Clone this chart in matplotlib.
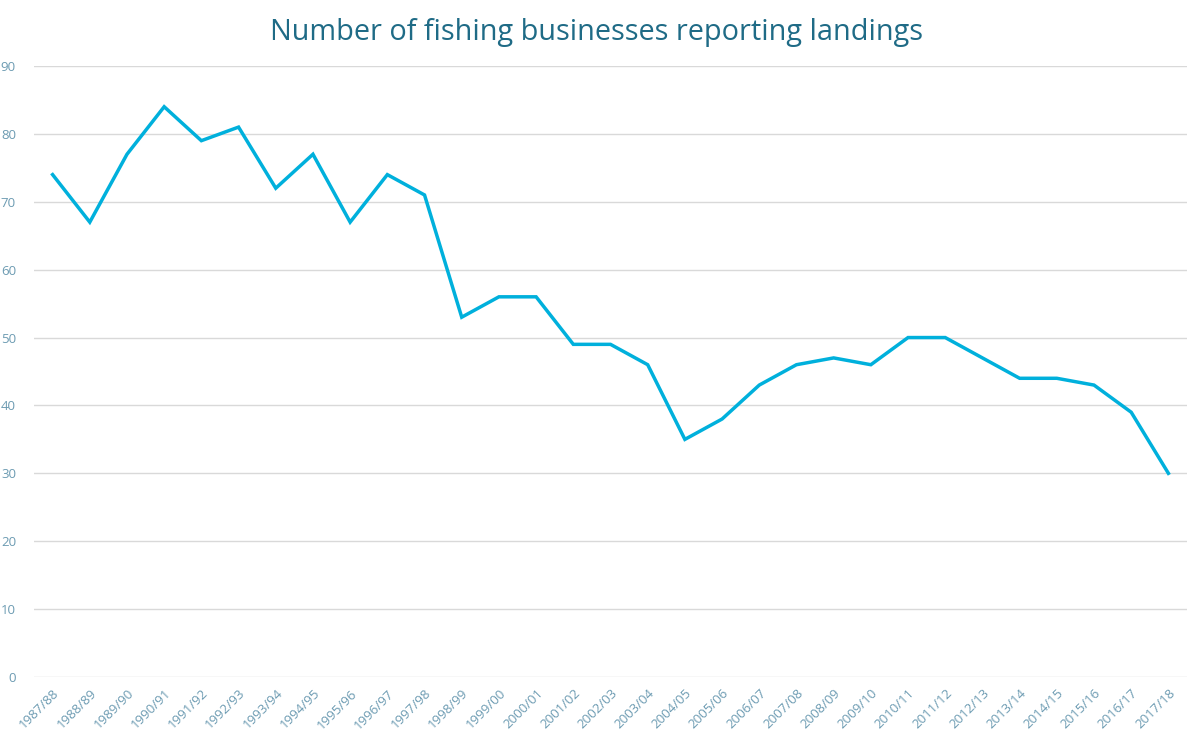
import matplotlib
matplotlib.use("Agg")
import matplotlib.pyplot as plt

seasons = ["1987/88", "1988/89", "1989/90", "1990/91", "1991/92", "1992/93",
           "1993/94", "1994/95", "1995/96", "1996/97", "1997/98", "1998/99",
           "1999/00", "2000/01", "2001/02", "2002/03", "2003/04", "2004/05",
           "2005/06", "2006/07", "2007/08", "2008/09", "2009/10", "2010/11",
           "2011/12", "2012/13", "2013/14", "2014/15", "2015/16", "2016/17",
           "2017/18"]
businesses = [74, 67, 77, 84, 79, 81, 72, 77, 67, 74, 71, 53, 56, 56, 49, 49,
              46, 35, 38, 43, 46, 47, 46, 50, 50, 47, 44, 44, 43, 39, 30]
y_ticks = [0, 10, 20, 30, 40, 50, 60, 70, 80, 90]

plt.rcParams["font.family"] = ["Open Sans", "DejaVu Sans"]

fig = plt.figure(figsize=(11.9, 7.36), dpi=100)
ax = fig.add_axes([34 / 1190, 59 / 736, 1153 / 1190, 611 / 736])

x = list(range(len(seasons)))
ax.plot(x, businesses, color="#00b0dc", linewidth=2.5, solid_joinstyle="miter")

ax.set_xlim(-0.5, len(seasons) - 0.5)
ax.set_ylim(0, 90)
ax.set_yticks(y_ticks)
ax.set_xticks(x)
ax.set_xticklabels(seasons, rotation=45, ha="right", rotation_mode="anchor")

ax.grid(axis="y", color="#d9d9d9", linewidth=1)
ax.set_axisbelow(True)
for s in ax.spines.values():
    s.set_visible(False)
ax.tick_params(axis="both", length=0, labelsize=9.5, labelcolor="#6c9bb2")
ax.tick_params(axis="y", pad=13)
ax.tick_params(axis="x", pad=7)

fig.text(0.5015, 0.956, "Number of fishing businesses reporting landings",
         ha="center", va="center", fontsize=20.8, color="#1f6b86")

fig.savefig("out.png", dpi=100)
